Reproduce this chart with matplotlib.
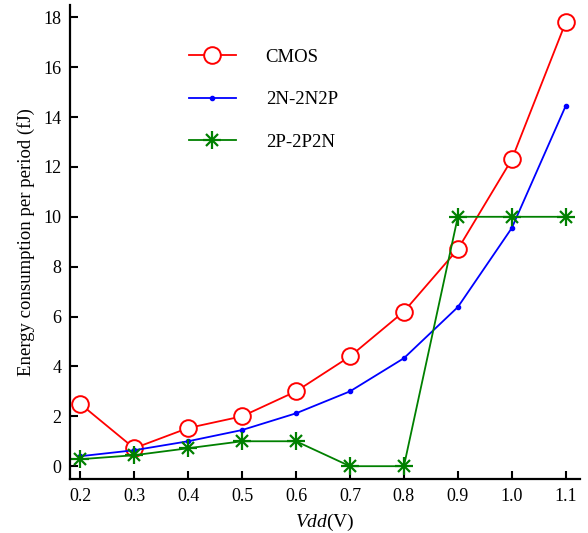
import matplotlib
matplotlib.use("Agg")
import matplotlib.pyplot as plt
from matplotlib.lines import Line2D

vdd = [0.2, 0.3, 0.4, 0.5, 0.6, 0.7, 0.8, 0.9, 1.0, 1.1]
cmos = [2.5, 0.72, 1.53, 2.0, 3.0, 4.4, 6.2, 8.7, 12.3, 17.8]
n2n2p = [0.4, 0.64, 1.0, 1.45, 2.12, 3.0, 4.33, 6.38, 9.55, 14.45]
p2p2n = [0.28, 0.44, 0.72, 1.0, 1.0, 0.0, 0.0, 10.0, 10.0, 10.0]
xticks = [0.2, 0.3, 0.4, 0.5, 0.6, 0.7, 0.8, 0.9, 1.0, 1.1]
yticks = [0, 2, 4, 6, 8, 10, 12, 14, 16, 18]

plt.rcParams['font.family'] = ['Liberation Serif', 'DejaVu Serif']
plt.rcParams['mathtext.fontset'] = 'custom'
plt.rcParams['mathtext.it'] = 'Liberation Serif:italic'
plt.rcParams['mathtext.rm'] = 'Liberation Serif'

fig = plt.figure(figsize=(5.88, 5.33), dpi=100)
ax = fig.add_axes([0.119, 0.101, 0.867, 0.89])

LW = 1.3
ax.plot(vdd, cmos, color='red', lw=LW, marker='o', ms=12,
        mfc='white', mec='red', mew=1.4, label='CMOS')
ax.plot(vdd, n2n2p, color='blue', lw=LW, marker='.', ms=6,
        label='2N-2N2P')
ax.plot(vdd, p2p2n, color='green', lw=LW, label='2P-2P2N', zorder=3)
# asterisk markers drawn as overlaid plus and cross
ax.plot(vdd, p2p2n, ls='none', marker='+', ms=13, mew=1.6, color='green')
ax.plot(vdd, p2p2n, ls='none', marker='x', ms=9, mew=1.6, color='green')

ax.set_xlim(0.181, 1.126)
ax.set_ylim(-0.52, 18.5)
ax.set_xticks(xticks)
ax.set_xticklabels([f"{v:.1f}" for v in xticks])
ax.set_yticks(yticks)

for s in ['top', 'right']:
    ax.spines[s].set_visible(False)
for s in ['left', 'bottom']:
    ax.spines[s].set_linewidth(1.6)
ax.tick_params(direction='in', length=6, width=1.5, labelsize=13, pad=6)

ax.set_xlabel(r'$\mathit{Vdd}$(V)', fontsize=14, labelpad=5)
ax.set_ylabel('Energy consumption per period (fJ)', fontsize=13.5, labelpad=6)

h_cmos = Line2D([], [], color='red', lw=LW, marker='o', ms=12, mfc='white', mec='red', mew=1.4)
h_n = Line2D([], [], color='blue', lw=LW, marker='.', ms=6)
h_p1 = Line2D([], [], color='green', lw=LW, marker='+', ms=13, mew=1.6)
h_p2 = Line2D([], [], color='green', lw=0, marker='x', ms=9, mew=1.6)
ax.legend([h_cmos, h_n, (h_p1, h_p2)], ['CMOS', '2N-2N2P', '2P-2P2N'],
          loc='upper left', bbox_to_anchor=(0.2, 0.943), frameon=False,
          fontsize=13.5, handlelength=2.5, handletextpad=1.6, labelspacing=1.35,
          numpoints=1)

fig.savefig('out.png', dpi=100)
